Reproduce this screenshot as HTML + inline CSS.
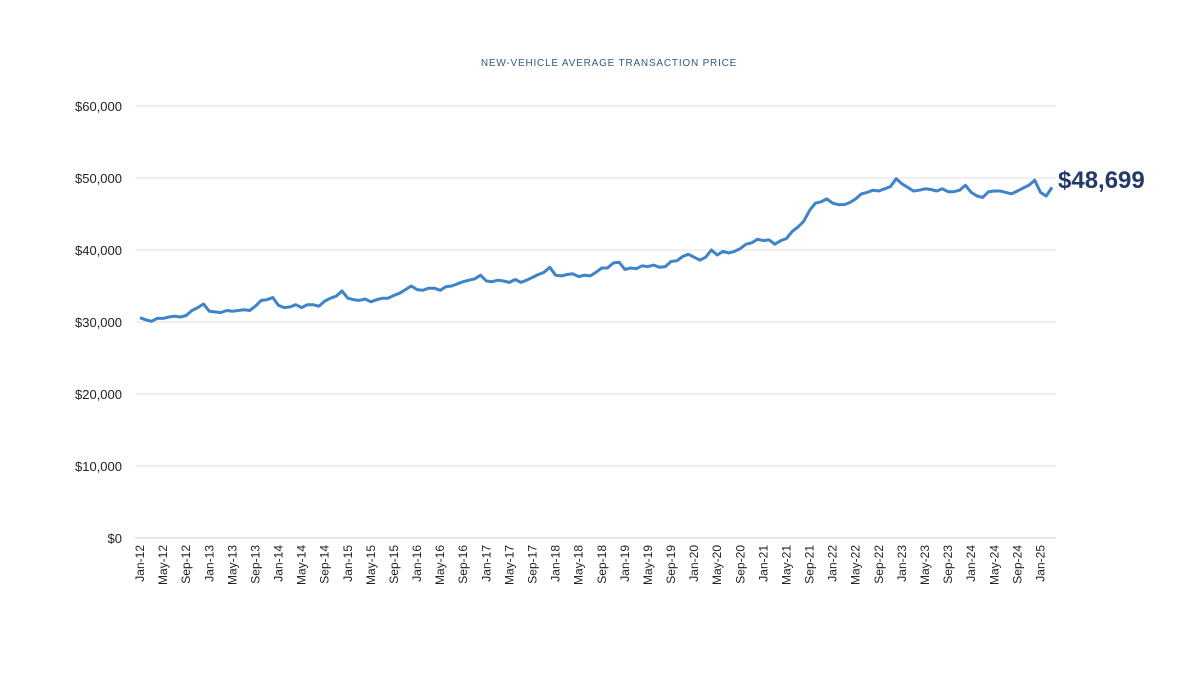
<!DOCTYPE html>
<html><head><meta charset="utf-8">
<style>
body{margin:0;background:#fff;}
svg{display:block;font-family:"Liberation Sans",sans-serif;}
</style></head>
<body>
<svg id="chart" width="1200" height="675">
<text x="609" y="66" text-anchor="middle" font-size="10" fill="#2f5b8a" letter-spacing="0.8">NEW-VEHICLE AVERAGE TRANSACTION PRICE</text>
<g id="grid"></g><g id="yticks"></g><g id="xticks"></g><g id="series"></g>
<text x="1058" y="188" font-size="24" font-weight="bold" fill="#233a6b">$48,699</text>
</svg>
<script>
const yTicks=[0,10000,20000,30000,40000,50000,60000];
const yTickLabels=["$0","$10,000","$20,000","$30,000","$40,000","$50,000","$60,000"];
const months=["Jan","Feb","Mar","Apr","May","Jun","Jul","Aug","Sep","Oct","Nov","Dec"];
const startYear=12;
const prices=[
30.6,30.3,30.1,30.5,30.5,30.7,30.8,30.7,30.9,31.6,32.0,32.5,
31.5,31.4,31.3,31.6,31.5,31.6,31.7,31.6,32.2,33.0,33.1,33.4,
32.3,32.0,32.1,32.4,32.0,32.4,32.4,32.2,32.9,33.3,33.6,34.3,
33.3,33.1,33.0,33.2,32.8,33.1,33.3,33.3,33.7,34.0,34.5,35.0,
34.5,34.4,34.7,34.7,34.4,34.9,35.0,35.3,35.6,35.8,36.0,36.5,
35.7,35.6,35.8,35.7,35.5,35.9,35.5,35.8,36.2,36.6,36.9,37.6,
36.5,36.4,36.6,36.7,36.3,36.5,36.4,36.9,37.5,37.5,38.2,38.3,
37.3,37.5,37.4,37.8,37.7,37.9,37.6,37.7,38.4,38.5,39.1,39.4,
39.0,38.6,39.0,40.0,39.3,39.8,39.6,39.8,40.2,40.8,41.0,41.5,
41.3,41.4,40.8,41.3,41.6,42.6,43.2,44.0,45.5,46.5,46.7,47.1,
46.5,46.3,46.3,46.6,47.1,47.8,48.0,48.3,48.2,48.5,48.8,49.9,
49.2,48.7,48.2,48.3,48.5,48.4,48.2,48.5,48.1,48.1,48.3,49.0,
48.0,47.5,47.3,48.1,48.2,48.2,48.0,47.8,48.2,48.6,49.0,49.7,
48.0,47.5,48.699];
const NS="http://www.w3.org/2000/svg";
const x0=140,x1=1052,yB=538,yT=106,maxV=60000;
const n=prices.length;
function xs(i){return x0+(x1-x0)*i/(n-1);}
function ys(v){return yB-(yB-yT)*v/maxV;}
function mk(t,a,p){const e=document.createElementNS(NS,t);for(const k in a)e.setAttribute(k,a[k]);p.appendChild(e);return e;}
const grid=document.getElementById('grid'),yt=document.getElementById('yticks'),xt=document.getElementById('xticks'),se=document.getElementById('series');
yTicks.forEach((v,i)=>{
 const l=mk('line',{x1:135,x2:1056,y1:ys(v),y2:ys(v),stroke:i===0?'#d0d0d0':'#e2e2e2','stroke-width':1},grid);
 
 
 const t=mk('text',{x:122,y:ys(v)+5,'text-anchor':'end','font-size':13,fill:'#222'},yt);
 t.textContent=yTickLabels[i];
 
 
});
for(let i=0;i<n;i+=4){
 const lab=months[i%12]+"-"+(startYear+Math.floor(i/12));
 const t=mk('text',{transform:`translate(${xs(i)+4},545) rotate(-90)`,'text-anchor':'end','font-size':12,fill:'#222'},xt);
 t.textContent=lab;
 
 
}
const pts=prices.map((v,i)=>xs(i).toFixed(1)+","+ys(v*1000).toFixed(1)).join(" ");
const pl=mk('polyline',{points:pts,fill:'none',stroke:'#3f83c9','stroke-width':3,'stroke-linejoin':'round'},se);


</script>
</body></html>
